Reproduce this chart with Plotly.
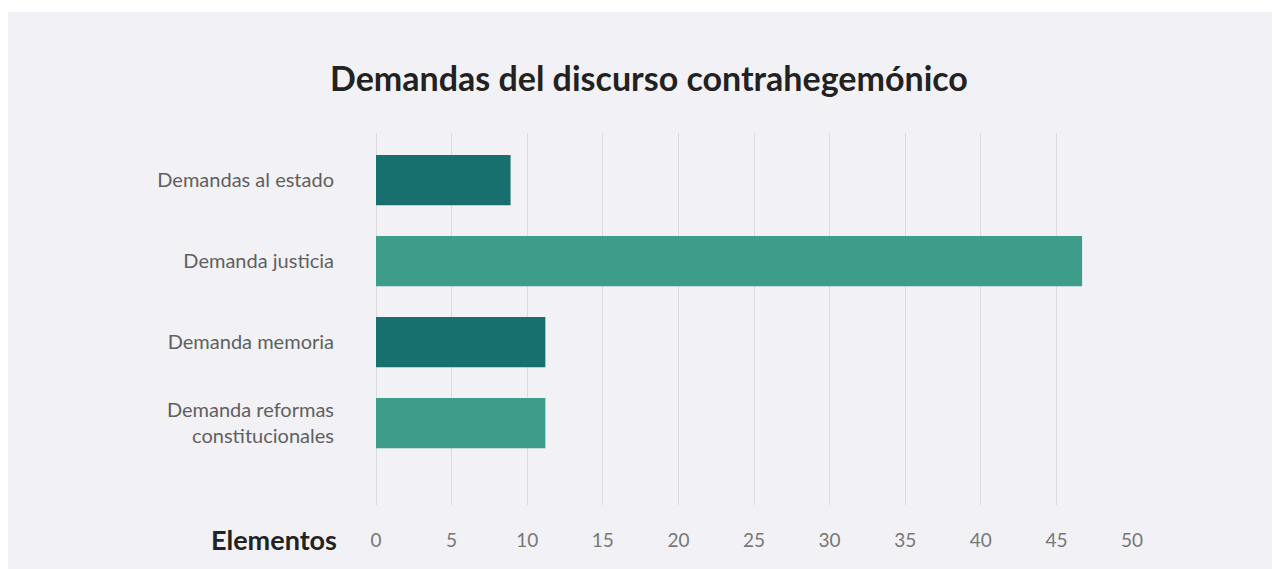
import plotly.graph_objects as go

# page body margin is 8px, so figure origin on screen is (8, 8)
OFF = 8
W, H = 1280, 561

categories = ["Demandas al estado", "Demanda justicia", "Demanda memoria",
              "Demanda reformas<br>constitucionales"]
values = [8.9, 46.7, 11.2, 11.2]
bar_colors = ["#17706d", "#3e9c8a", "#17706d", "#3e9c8a"]
x_ticks = [0, 5, 10, 15, 20, 25, 30, 35, 40, 45, 50]

title_text = "Demandas del discurso contrahegemónico"
x_title = "Elementos"

def px_x(p):
    return (p - OFF) / W

def px_y(p):
    return 1 - (p - OFF) / H

fig = go.Figure()
fig.add_trace(go.Bar(
    y=categories, x=values, orientation="h",
    marker=dict(color=bar_colors, line=dict(width=0)),
    width=0.62, hoverinfo="x+y",
))

fig.update_layout(
    width=W, height=H,
    margin=dict(l=0, r=0, t=0, b=0),
    paper_bgcolor="#ffffff",
    plot_bgcolor="rgba(0,0,0,0)",
    showlegend=False,
    font=dict(family="Lato, 'Open Sans', sans-serif", color="#555"),
    xaxis=dict(
        domain=[px_x(376), px_x(1132)],
        range=[0, 50], tickvals=x_ticks,
        showgrid=True, gridcolor="#dcdcdf", gridwidth=1,
        zeroline=True, zerolinecolor="#dcdcdf", zerolinewidth=1,
        showline=False, automargin=False,
        ticks="outside", ticklen=18, tickcolor="rgba(0,0,0,0)",
        tickfont=dict(size=19, color="#777"),
        anchor="y",
    ),
    yaxis=dict(
        domain=[px_y(505), px_y(133)],
        type="category",
        range=[4.01, -0.58],
        showgrid=False, zeroline=False, showline=False, automargin=False,
        ticks="outside", ticklen=37, tickcolor="rgba(0,0,0,0)",
        tickfont=dict(size=20, color="#606060"),
    ),
    shapes=[dict(
        type="rect", xref="paper", yref="paper",
        x0=px_x(8), x1=1.0, y0=0.0, y1=px_y(12),
        fillcolor="#f2f2f6", line=dict(width=0), layer="below",
    )],
    annotations=[
        dict(text="<b>" + title_text + "</b>", xref="paper", yref="paper",
             x=px_x(649), y=px_y(77), xanchor="center", yanchor="middle",
             showarrow=False, font=dict(size=34, color="#222")),
        dict(text="<b>" + x_title + "</b>", xref="paper", yref="paper",
             x=px_x(339), y=px_y(539), xanchor="right", yanchor="middle",
             showarrow=False, font=dict(size=27, color="#222")),
    ],
)

fig.write_html("out.html")
